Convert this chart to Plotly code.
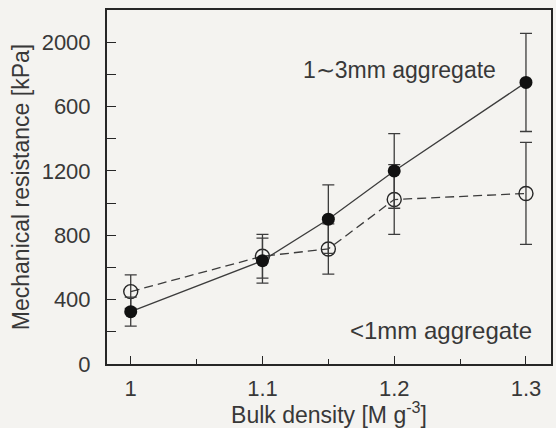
import plotly.graph_objects as go

# Bulk density (M g^-3)
bulk_density = [1.0, 1.1, 1.15, 1.2, 1.3]

# Mechanical resistance (kPa), 1~3 mm aggregate (filled markers)
coarse_mean = [325, 642, 900, 1200, 1750]
coarse_err = [90, 140, 213, 232, 305]

# Mechanical resistance (kPa), <1 mm aggregate (open markers)
fine_mean = [450, 670, 715, 1022, 1060]
fine_err = [104, 136, 156, 217, 317]

y_tickvals = [0, 400, 800, 1200, 1600, 2000]
y_ticktext = ["0", "400", "800", "1200", "600", "2000"]
x_tickvals = [1.0, 1.1, 1.2, 1.3]
x_ticktext = ["1", "1.1", "1.2", "1.3"]

INK = "#262626"
TEXT = "#383838"
PAPER = "#f4f3f0"
FONT = "Liberation Sans, Arial, sans-serif"

fig = go.Figure()

fig.add_trace(go.Scatter(
    x=bulk_density, y=fine_mean,
    mode="lines+markers",
    line=dict(color="#3c3c3c", width=1.3, dash="9px,5px"),
    marker=dict(symbol="circle-open", size=14, color=INK, line=dict(width=1.4, color=INK)),
    error_y=dict(type="data", array=fine_err, visible=True, color="#3c3c3c", thickness=1.3, width=6),
    showlegend=False,
))

fig.add_trace(go.Scatter(
    x=bulk_density, y=coarse_mean,
    mode="lines+markers",
    line=dict(color="#3c3c3c", width=1.3),
    marker=dict(symbol="circle", size=13, color="#111111"),
    error_y=dict(type="data", array=coarse_err, visible=True, color="#3c3c3c", thickness=1.3, width=6),
    showlegend=False,
))

fig.add_annotation(x=1.3, y=1830, xref="x", yref="y", text="1∼3mm aggregate",
                   showarrow=False, xanchor="right", yanchor="middle", xshift=-28,
                   font=dict(size=23, color=TEXT, family=FONT))
fig.add_annotation(x=1.3, y=210, xref="x", yref="y", text="&lt;1mm aggregate",
                   showarrow=False, xanchor="right", yanchor="middle", xshift=8,
                   font=dict(size=24, color=TEXT, family=FONT))

fig.update_layout(
    width=556, height=428,
    margin=dict(l=107, r=3, t=10, b=64),
    paper_bgcolor=PAPER, plot_bgcolor=PAPER,
    font=dict(family=FONT, color=TEXT, size=22),
    xaxis=dict(
        range=[0.982, 1.319],
        tickvals=x_tickvals, ticktext=x_ticktext,
        ticks="inside", ticklen=8, tickwidth=1.2, tickcolor=INK,
        minor=dict(ticks="inside", ticklen=5, tickwidth=1.2, tickcolor=INK, dtick=0.05, tick0=1.0),
        showline=True, linewidth=2, linecolor=INK, mirror=True,
        showgrid=False, zeroline=False,
        tickfont=dict(size=22, color=TEXT),
        ticklabelstandoff=4,
        title=dict(text="Bulk density [M g<sup>-3</sup>]", font=dict(size=23, color=TEXT), standoff=4),
    ),
    yaxis=dict(
        range=[0, 2200],
        tickvals=y_tickvals, ticktext=y_ticktext,
        ticks="inside", ticklen=9, tickwidth=1.2, tickcolor=INK,
        minor=dict(ticks="inside", ticklen=9, tickwidth=1.2, tickcolor=INK, dtick=200, tick0=0),
        showline=True, linewidth=2, linecolor=INK, mirror=True,
        showgrid=False, zeroline=False,
        tickfont=dict(size=22, color=TEXT),
        ticklabelstandoff=10,
        title=dict(text="Mechanical resistance [kPa]", font=dict(size=23, color=TEXT), standoff=6),
    ),
)

fig.write_html("out.html")
